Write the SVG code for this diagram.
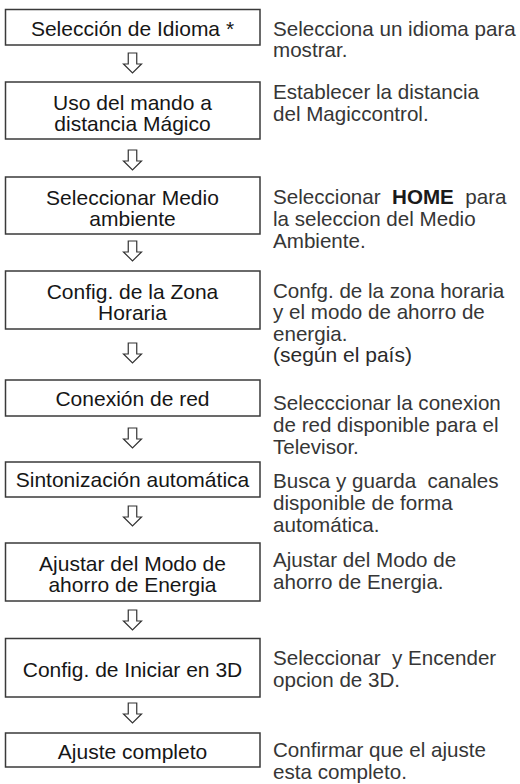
<svg xmlns="http://www.w3.org/2000/svg" width="520" height="784" viewBox="0 0 520 784">
<style>
.box{fill:#fff;stroke:#3a3a3a;stroke-width:1.5}
.bt{font-family:"Liberation Sans",Arial,sans-serif;font-size:21px;fill:#161616;text-anchor:middle}
.dt{font-family:"Liberation Sans",Arial,sans-serif;font-size:20.6px;fill:#363636;white-space:pre}
.b{font-weight:bold;fill:#1a1a1a}
.ar{fill:#fff;stroke:#333;stroke-width:1.2;stroke-linejoin:miter}
</style>
<defs>
<path id="arr" d="M-4.25,0 H4.25 V11 H9 L0,20 L-9,11 H-4.25 Z"/>
</defs>
<rect width="520" height="784" fill="#fff"/>
<g id="connectors">
<use href="#arr" class="ar" x="132.5" y="53"/>
<use href="#arr" class="ar" x="132.5" y="150"/>
<use href="#arr" class="ar" x="132.5" y="241"/>
<use href="#arr" class="ar" x="132.5" y="343"/>
<use href="#arr" class="ar" x="132.5" y="428"/>
<use href="#arr" class="ar" x="132.5" y="506"/>
<use href="#arr" class="ar" x="132.5" y="610"/>
<use href="#arr" class="ar" x="132.5" y="703"/>
</g>
<g id="n1">
<rect class="box" x="5.5" y="9.5" width="254.5" height="35.5"/>
<text class="bt" x="132.5" y="36">Selección de Idioma *</text>
<text class="dt" x="273" y="36">Selecciona un idioma para</text>
<text class="dt" x="273" y="57">mostrar.</text>
</g>
<g id="n2">
<rect class="box" x="5.5" y="82" width="254.5" height="57"/>
<text class="bt" x="132.5" y="110">Uso del mando a</text>
<text class="bt" x="132.5" y="131">distancia Mágico</text>
<text class="dt" x="273" y="99">Establecer la distancia</text>
<text class="dt" x="273" y="120.5">del Magiccontrol.</text>
</g>
<g id="n3">
<rect class="box" x="5.5" y="177" width="254.5" height="57"/>
<text class="bt" x="132.5" y="205">Seleccionar Medio</text>
<text class="bt" x="132.5" y="226">ambiente</text>
<text class="dt" x="273" y="204">Seleccionar  <tspan class="b">HOME</tspan>  para</text>
<text class="dt" x="273" y="226">la seleccion del Medio</text>
<text class="dt" x="273" y="248">Ambiente.</text>
</g>
<g id="n4">
<rect class="box" x="5.5" y="271" width="254.5" height="58"/>
<text class="bt" x="132.5" y="299">Config. de la Zona</text>
<text class="bt" x="132.5" y="320">Horaria</text>
<text class="dt" x="273" y="297.5">Confg. de la zona horaria</text>
<text class="dt" x="273" y="319">y el modo de ahorro de</text>
<text class="dt" x="273" y="340.5">energia.</text>
<text class="dt" x="273" y="362" style="font-size:21px;fill:#2a2a2a">(según el país)</text>
</g>
<g id="n5">
<rect class="box" x="5.5" y="380" width="254.5" height="36"/>
<text class="bt" x="132.5" y="406">Conexión de red</text>
<text class="dt" x="273" y="410">Selecccionar la conexion</text>
<text class="dt" x="273" y="432">de red disponible para el</text>
<text class="dt" x="273" y="453.5">Televisor.</text>
</g>
<g id="n6">
<rect class="box" x="5.5" y="462" width="254.5" height="35"/>
<text class="bt" x="132.5" y="487">Sintonización automática</text>
<text class="dt" x="273" y="487.5">Busca y guarda  canales</text>
<text class="dt" x="273" y="509.5">disponible de forma</text>
<text class="dt" x="273" y="531.5">automática.</text>
</g>
<g id="n7">
<rect class="box" x="5.5" y="543" width="254.5" height="58"/>
<text class="bt" x="132.5" y="570.5">Ajustar del Modo de</text>
<text class="bt" x="132.5" y="591.5">ahorro de Energia</text>
<text class="dt" x="273" y="567">Ajustar del Modo de</text>
<text class="dt" x="273" y="589">ahorro de Energia.</text>
</g>
<g id="n8">
<rect class="box" x="5.5" y="638.5" width="254.5" height="58.5"/>
<text class="bt" x="132.5" y="676.5">Config. de Iniciar en 3D</text>
<text class="dt" x="273" y="665">Seleccionar  y Encender</text>
<text class="dt" x="273" y="687">opcion de 3D.</text>
</g>
<g id="n9">
<rect class="box" x="5.5" y="733" width="254.5" height="34"/>
<text class="bt" x="132.5" y="759">Ajuste completo</text>
<text class="dt" x="273" y="757">Confirmar que el ajuste</text>
<text class="dt" x="273" y="778.5">esta completo.</text>
</g>
</svg>
